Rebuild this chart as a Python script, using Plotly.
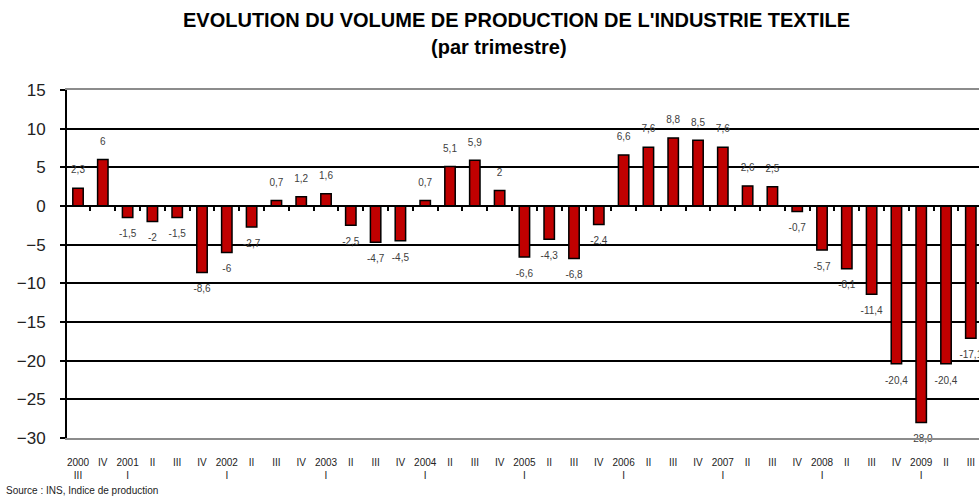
import plotly.graph_objects as go

quarters = ["2000 III", "2000 IV",
            "2001 I", "2001 II", "2001 III", "2001 IV",
            "2002 I", "2002 II", "2002 III", "2002 IV",
            "2003 I", "2003 II", "2003 III", "2003 IV",
            "2004 I", "2004 II", "2004 III", "2004 IV",
            "2005 I", "2005 II", "2005 III", "2005 IV",
            "2006 I", "2006 II", "2006 III", "2006 IV",
            "2007 I", "2007 II", "2007 III", "2007 IV",
            "2008 I", "2008 II", "2008 III", "2008 IV",
            "2009 I", "2009 II", "2009 III"]
tick_labels = ["2000<br>III", "IV",
               "2001<br>I", "II", "III", "IV",
               "2002<br>I", "II", "III", "IV",
               "2003<br>I", "II", "III", "IV",
               "2004<br>I", "II", "III", "IV",
               "2005<br>I", "II", "III", "IV",
               "2006<br>I", "II", "III", "IV",
               "2007<br>I", "II", "III", "IV",
               "2008<br>I", "II", "III", "IV",
               "2009<br>I", "II", "III"]
values = [2.3, 6, -1.5, -2, -1.5, -8.6, -6, -2.7, 0.7, 1.2, 1.6, -2.5, -4.7, -4.5,
          0.7, 5.1, 5.9, 2, -6.6, -4.3, -6.8, -2.4, 6.6, 7.6, 8.8, 8.5, 7.6, 2.6,
          2.5, -0.7, -5.7, -8.1, -11.4, -20.4, -28.0, -20.4, -17.1]
value_labels = ["2,3", "6", "-1,5", "-2", "-1,5", "-8,6", "-6", "-2,7", "0,7", "1,2",
                "1,6", "-2,5", "-4,7", "-4,5", "0,7", "5,1", "5,9", "2", "-6,6", "-4,3",
                "-6,8", "-2,4", "6,6", "7,6", "8,8", "8,5", "7,6", "2,6", "2,5", "-0,7",
                "-5,7", "-8,1", "-11,4", "-20,4", "-28,0", "-20,4", "-17,1"]
y_ticks = [-30, -25, -20, -15, -10, -5, 0, 5, 10, 15]

FONT = "Liberation Sans Narrow, Arial Narrow, Liberation Sans, Arial, sans-serif"

fig = go.Figure()
fig.add_trace(go.Bar(
    x=quarters, y=values, width=0.42,
    marker=dict(color="#C00000", line=dict(color="black", width=1.5)),
    hoverinfo="skip", showlegend=False,
))
fig.add_trace(go.Scatter(
    x=quarters, y=values, mode="markers+text", text=value_labels,
    textposition=["top center" if v >= 0 else "bottom center" for v in values],
    textfont=dict(family=FONT, size=10, color="#404040"),
    marker=dict(size=18, opacity=0),
    hoverinfo="skip", showlegend=False, cliponaxis=False,
))
# axis line with tick marks crossing at zero
fig.add_trace(go.Scatter(
    x=quarters, y=[None] * len(quarters), xaxis="x2", mode="markers",
    hoverinfo="skip", showlegend=False,
))

cat_range = [-0.444, 36.33]
fig.update_layout(
    width=979, height=498,
    margin=dict(l=67, r=0, t=90, b=60),
    plot_bgcolor="white", paper_bgcolor="white",
    font=dict(family=FONT, color="black"),
    bargap=0.5,
    xaxis=dict(
        type="category", categoryorder="array", categoryarray=quarters,
        range=cat_range, tickvals=quarters, ticktext=tick_labels,
        tickfont=dict(size=10, color="#222222"), ticks="",
        showgrid=False, showline=True, linecolor="#8c8c8c", linewidth=2,
        mirror=True, ticklabelstandoff=14, zeroline=False,
    ),
    xaxis2=dict(
        type="category", categoryorder="array", categoryarray=quarters,
        overlaying="x", matches="x", anchor="free", position=30 / 45,
        range=cat_range, showticklabels=False, showgrid=False,
        showline=True, linecolor="black", linewidth=2,
        ticks="outside", ticklen=4, tickwidth=2, tickcolor="black",
        tickson="boundaries",
    ),
    yaxis=dict(
        range=[-30, 15], tickvals=y_ticks, ticks="outside", ticklen=5,
        tickwidth=2, tickcolor="black",
        tickfont=dict(size=17, color="#222222"),
        showgrid=True, gridcolor="black", gridwidth=2,
        showline=True, linecolor="black", linewidth=2,
        zeroline=False, ticklabelstandoff=11,
    ),
    annotations=[
        dict(text="<b>EVOLUTION DU VOLUME DE PRODUCTION DE L'INDUSTRIE TEXTILE</b>",
             xref="paper", yref="paper", x=(516 - 67) / 912, y=1,
             yshift=70, xanchor="center", yanchor="middle", showarrow=False,
             font=dict(family=FONT, size=20, color="black")),
        dict(text="<b>(par trimestre)</b>",
             xref="paper", yref="paper", x=(499 - 67) / 912, y=1,
             yshift=43, xanchor="center", yanchor="middle", showarrow=False,
             font=dict(family=FONT, size=20, color="black")),
        dict(text="Source : INS, Indice de production",
             xref="paper", yref="paper", x=-63 / 912, y=0, yshift=-52,
             xanchor="left", yanchor="middle", showarrow=False,
             font=dict(family=FONT, size=10, color="#222222")),
    ],
)

fig.write_html("out.html", config={"displayModeBar": False},
               post_script="document.body.style.margin='0';")
